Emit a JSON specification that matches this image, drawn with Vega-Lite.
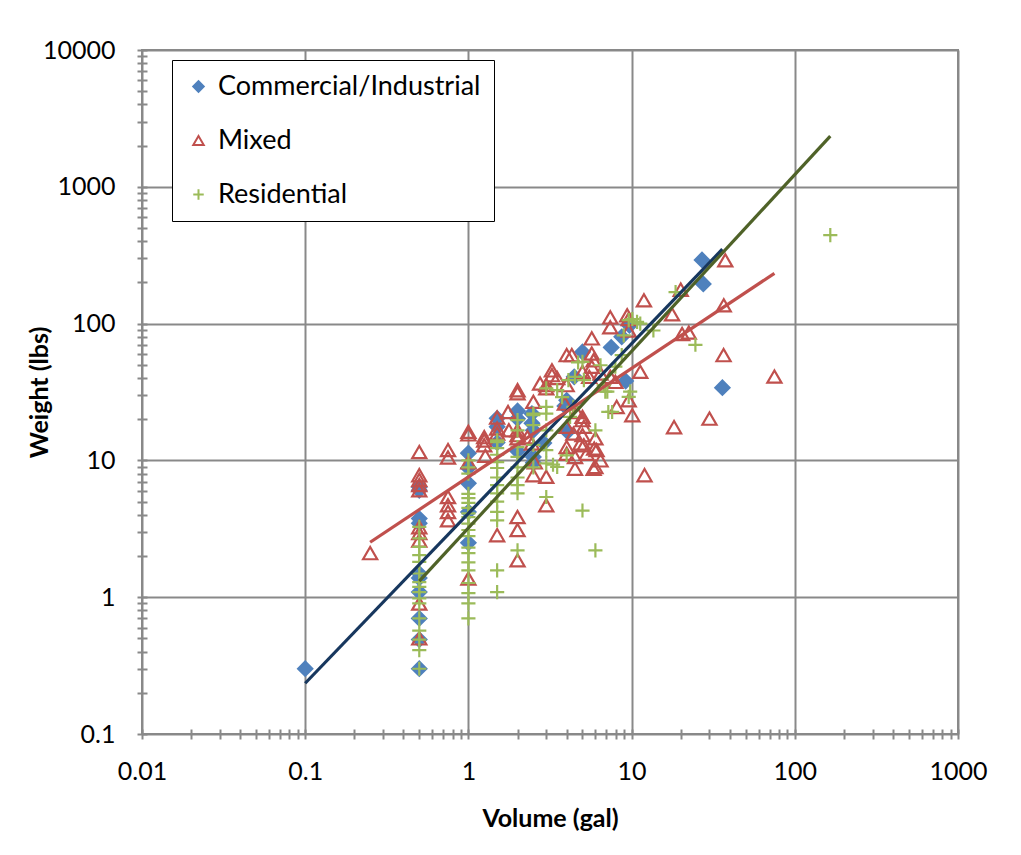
{
  "$schema": "https://vega.github.io/schema/vega-lite/v6.json",
  "width": 816,
  "height": 684,
  "autosize": {"type": "none"},
  "padding": {"left": 142, "top": 50, "right": 63, "bottom": 121},
  "background": "white",
  "config": {
    "font": "Lato",
    "view": {"stroke": "#898989", "strokeWidth": 2}
  },
  "datasets": {
    "pts": [
      {"t":"Commercial/Industrial","v":0.1,"w":0.3},
      {"t":"Commercial/Industrial","v":0.5,"w":6.4},
      {"t":"Commercial/Industrial","v":0.5,"w":6.05},
      {"t":"Commercial/Industrial","v":0.5,"w":3.76},
      {"t":"Commercial/Industrial","v":0.5,"w":3.47},
      {"t":"Commercial/Industrial","v":0.5,"w":1.49},
      {"t":"Commercial/Industrial","v":0.5,"w":1.38},
      {"t":"Commercial/Industrial","v":0.5,"w":1.09},
      {"t":"Commercial/Industrial","v":0.5,"w":0.7},
      {"t":"Commercial/Industrial","v":0.5,"w":0.49},
      {"t":"Commercial/Industrial","v":0.5,"w":0.3},
      {"t":"Commercial/Industrial","v":1,"w":11.3},
      {"t":"Commercial/Industrial","v":1,"w":8.8},
      {"t":"Commercial/Industrial","v":1,"w":6.8},
      {"t":"Commercial/Industrial","v":1,"w":4.2},
      {"t":"Commercial/Industrial","v":1,"w":2.5},
      {"t":"Commercial/Industrial","v":1.5,"w":20.3},
      {"t":"Commercial/Industrial","v":1.5,"w":17.6},
      {"t":"Commercial/Industrial","v":1.5,"w":13.5},
      {"t":"Commercial/Industrial","v":2,"w":23},
      {"t":"Commercial/Industrial","v":2,"w":20.2},
      {"t":"Commercial/Industrial","v":2,"w":11.7},
      {"t":"Commercial/Industrial","v":2.45,"w":22},
      {"t":"Commercial/Industrial","v":2.45,"w":18.7},
      {"t":"Commercial/Industrial","v":2.5,"w":16.6},
      {"t":"Commercial/Industrial","v":2.5,"w":10.6},
      {"t":"Commercial/Industrial","v":2.5,"w":9.6},
      {"t":"Commercial/Industrial","v":2.9,"w":13.4},
      {"t":"Commercial/Industrial","v":4,"w":27.5},
      {"t":"Commercial/Industrial","v":3.9,"w":25},
      {"t":"Commercial/Industrial","v":4.05,"w":16.2},
      {"t":"Commercial/Industrial","v":4.45,"w":40.8},
      {"t":"Commercial/Industrial","v":5,"w":62},
      {"t":"Commercial/Industrial","v":7.5,"w":67},
      {"t":"Commercial/Industrial","v":8.7,"w":80},
      {"t":"Commercial/Industrial","v":9.2,"w":38},
      {"t":"Commercial/Industrial","v":9.7,"w":97},
      {"t":"Commercial/Industrial","v":27,"w":292},
      {"t":"Commercial/Industrial","v":27.5,"w":195},
      {"t":"Commercial/Industrial","v":36,"w":34},
      {"t":"Mixed","v":0.25,"w":2.1},
      {"t":"Mixed","v":0.5,"w":11.5},
      {"t":"Mixed","v":0.5,"w":7.8},
      {"t":"Mixed","v":0.5,"w":7.2},
      {"t":"Mixed","v":0.5,"w":6.6},
      {"t":"Mixed","v":0.5,"w":6.05},
      {"t":"Mixed","v":0.5,"w":3.25},
      {"t":"Mixed","v":0.5,"w":2.94},
      {"t":"Mixed","v":0.5,"w":2.6},
      {"t":"Mixed","v":0.5,"w":0.9},
      {"t":"Mixed","v":0.5,"w":0.5},
      {"t":"Mixed","v":0.75,"w":11.9},
      {"t":"Mixed","v":0.75,"w":10.5},
      {"t":"Mixed","v":0.75,"w":5.4},
      {"t":"Mixed","v":0.75,"w":4.7},
      {"t":"Mixed","v":0.75,"w":4.2},
      {"t":"Mixed","v":0.75,"w":3.65},
      {"t":"Mixed","v":1,"w":16.2},
      {"t":"Mixed","v":1,"w":15.5},
      {"t":"Mixed","v":1,"w":9.7},
      {"t":"Mixed","v":1,"w":1.37},
      {"t":"Mixed","v":1.25,"w":14.8},
      {"t":"Mixed","v":1.25,"w":14},
      {"t":"Mixed","v":1.25,"w":12.9},
      {"t":"Mixed","v":1.27,"w":10.8},
      {"t":"Mixed","v":1.5,"w":20.6},
      {"t":"Mixed","v":1.5,"w":17.1},
      {"t":"Mixed","v":1.5,"w":15.7},
      {"t":"Mixed","v":1.5,"w":2.84},
      {"t":"Mixed","v":1.75,"w":22.6},
      {"t":"Mixed","v":1.77,"w":16.6},
      {"t":"Mixed","v":2,"w":32.6},
      {"t":"Mixed","v":2,"w":31},
      {"t":"Mixed","v":2,"w":16.6},
      {"t":"Mixed","v":2,"w":15.3},
      {"t":"Mixed","v":2,"w":14.5},
      {"t":"Mixed","v":2,"w":3.86},
      {"t":"Mixed","v":2,"w":3.1},
      {"t":"Mixed","v":2,"w":1.86},
      {"t":"Mixed","v":2.3,"w":14.8},
      {"t":"Mixed","v":2.45,"w":13.3},
      {"t":"Mixed","v":2.5,"w":26.8},
      {"t":"Mixed","v":2.55,"w":9.7},
      {"t":"Mixed","v":2.5,"w":7.8},
      {"t":"Mixed","v":2.75,"w":36.5},
      {"t":"Mixed","v":3,"w":35.5},
      {"t":"Mixed","v":3,"w":33.7},
      {"t":"Mixed","v":3,"w":7.6},
      {"t":"Mixed","v":3,"w":4.7},
      {"t":"Mixed","v":3.25,"w":45.5},
      {"t":"Mixed","v":3.25,"w":42},
      {"t":"Mixed","v":3.5,"w":40},
      {"t":"Mixed","v":3.9,"w":26},
      {"t":"Mixed","v":4,"w":35.5},
      {"t":"Mixed","v":4,"w":58.8},
      {"t":"Mixed","v":4,"w":17.6},
      {"t":"Mixed","v":4,"w":12.5},
      {"t":"Mixed","v":4,"w":11.2},
      {"t":"Mixed","v":4.3,"w":58.8},
      {"t":"Mixed","v":4.4,"w":15.7},
      {"t":"Mixed","v":4.5,"w":10.6},
      {"t":"Mixed","v":4.5,"w":8.7},
      {"t":"Mixed","v":4.6,"w":22.6},
      {"t":"Mixed","v":5,"w":20.8},
      {"t":"Mixed","v":5,"w":19.7},
      {"t":"Mixed","v":5.1,"w":17.6},
      {"t":"Mixed","v":5,"w":15.3},
      {"t":"Mixed","v":5.1,"w":12.9},
      {"t":"Mixed","v":5.3,"w":11.2},
      {"t":"Mixed","v":5,"w":44.4},
      {"t":"Mixed","v":4.85,"w":13.3},
      {"t":"Mixed","v":5.5,"w":40.8},
      {"t":"Mixed","v":5.7,"w":78},
      {"t":"Mixed","v":5.7,"w":60.5},
      {"t":"Mixed","v":5.7,"w":48.4},
      {"t":"Mixed","v":5.85,"w":54},
      {"t":"Mixed","v":5.85,"w":8.7},
      {"t":"Mixed","v":5.9,"w":12.2},
      {"t":"Mixed","v":6,"w":14.5},
      {"t":"Mixed","v":6,"w":8.95},
      {"t":"Mixed","v":6.1,"w":11.9},
      {"t":"Mixed","v":6.45,"w":10},
      {"t":"Mixed","v":6.45,"w":43.2},
      {"t":"Mixed","v":7.4,"w":111},
      {"t":"Mixed","v":7.4,"w":94},
      {"t":"Mixed","v":7.4,"w":40.8},
      {"t":"Mixed","v":7.95,"w":37.5},
      {"t":"Mixed","v":8.1,"w":24.6},
      {"t":"Mixed","v":9.4,"w":115},
      {"t":"Mixed","v":9.6,"w":89},
      {"t":"Mixed","v":9.6,"w":108},
      {"t":"Mixed","v":9.6,"w":27.5},
      {"t":"Mixed","v":10.1,"w":21.4},
      {"t":"Mixed","v":11.3,"w":44.4},
      {"t":"Mixed","v":11.9,"w":148},
      {"t":"Mixed","v":12,"w":7.8},
      {"t":"Mixed","v":17.7,"w":117},
      {"t":"Mixed","v":18.2,"w":17.5},
      {"t":"Mixed","v":20,"w":177},
      {"t":"Mixed","v":20.4,"w":84},
      {"t":"Mixed","v":22.4,"w":86},
      {"t":"Mixed","v":30,"w":20.2},
      {"t":"Mixed","v":36.6,"w":58.8},
      {"t":"Mixed","v":36.7,"w":136},
      {"t":"Mixed","v":37.5,"w":290},
      {"t":"Mixed","v":75,"w":41},
      {"t":"Residential","v":0.5,"w":3.27},
      {"t":"Residential","v":0.5,"w":2.69},
      {"t":"Residential","v":0.5,"w":2.33},
      {"t":"Residential","v":0.5,"w":2.03},
      {"t":"Residential","v":0.5,"w":1.81},
      {"t":"Residential","v":0.5,"w":1.49},
      {"t":"Residential","v":0.5,"w":1.29},
      {"t":"Residential","v":0.5,"w":1.19},
      {"t":"Residential","v":0.5,"w":1.09},
      {"t":"Residential","v":0.5,"w":0.98},
      {"t":"Residential","v":0.5,"w":0.9},
      {"t":"Residential","v":0.5,"w":0.7},
      {"t":"Residential","v":0.5,"w":0.57},
      {"t":"Residential","v":0.5,"w":0.49},
      {"t":"Residential","v":0.5,"w":0.41},
      {"t":"Residential","v":0.5,"w":0.3},
      {"t":"Residential","v":1,"w":10},
      {"t":"Residential","v":1,"w":8.9},
      {"t":"Residential","v":1,"w":8.0},
      {"t":"Residential","v":1,"w":5.7},
      {"t":"Residential","v":1,"w":5.3},
      {"t":"Residential","v":1,"w":4.9},
      {"t":"Residential","v":1,"w":4.5},
      {"t":"Residential","v":1,"w":4.1},
      {"t":"Residential","v":1,"w":3.85},
      {"t":"Residential","v":1,"w":3.45},
      {"t":"Residential","v":1,"w":3.1},
      {"t":"Residential","v":1,"w":2.8},
      {"t":"Residential","v":1,"w":2.3},
      {"t":"Residential","v":1,"w":2.1},
      {"t":"Residential","v":1,"w":1.8},
      {"t":"Residential","v":1,"w":1.57},
      {"t":"Residential","v":1,"w":1.27},
      {"t":"Residential","v":1,"w":1.07},
      {"t":"Residential","v":1,"w":0.9},
      {"t":"Residential","v":1,"w":0.7},
      {"t":"Residential","v":1.5,"w":14},
      {"t":"Residential","v":1.5,"w":13.6},
      {"t":"Residential","v":1.5,"w":12.3},
      {"t":"Residential","v":1.5,"w":11},
      {"t":"Residential","v":1.5,"w":9.7},
      {"t":"Residential","v":1.5,"w":8.8},
      {"t":"Residential","v":1.5,"w":7.5},
      {"t":"Residential","v":1.5,"w":6.6},
      {"t":"Residential","v":1.5,"w":5.75},
      {"t":"Residential","v":1.5,"w":5.0},
      {"t":"Residential","v":1.5,"w":4.2},
      {"t":"Residential","v":1.5,"w":3.65},
      {"t":"Residential","v":1.5,"w":1.57},
      {"t":"Residential","v":1.5,"w":1.09},
      {"t":"Residential","v":2,"w":19.7},
      {"t":"Residential","v":2,"w":16.6},
      {"t":"Residential","v":2,"w":12.5},
      {"t":"Residential","v":2,"w":10.6},
      {"t":"Residential","v":2,"w":8.9},
      {"t":"Residential","v":2,"w":7.5},
      {"t":"Residential","v":2,"w":6.6},
      {"t":"Residential","v":2,"w":5.75},
      {"t":"Residential","v":2,"w":2.2},
      {"t":"Residential","v":2.5,"w":22},
      {"t":"Residential","v":2.5,"w":21.4},
      {"t":"Residential","v":2.5,"w":18.1},
      {"t":"Residential","v":2.5,"w":13},
      {"t":"Residential","v":2.5,"w":8.9},
      {"t":"Residential","v":3,"w":24.6},
      {"t":"Residential","v":3,"w":22},
      {"t":"Residential","v":3,"w":16.6},
      {"t":"Residential","v":3,"w":33.6},
      {"t":"Residential","v":3,"w":11.9},
      {"t":"Residential","v":3,"w":9.5},
      {"t":"Residential","v":3,"w":5.4},
      {"t":"Residential","v":3.5,"w":32.6},
      {"t":"Residential","v":3.3,"w":9.3},
      {"t":"Residential","v":3.5,"w":8.95},
      {"t":"Residential","v":4,"w":10.9},
      {"t":"Residential","v":4.1,"w":38.6},
      {"t":"Residential","v":3.75,"w":29},
      {"t":"Residential","v":4.2,"w":20.8},
      {"t":"Residential","v":4.4,"w":24.6},
      {"t":"Residential","v":4.5,"w":40.8},
      {"t":"Residential","v":4.7,"w":52},
      {"t":"Residential","v":5,"w":52.5},
      {"t":"Residential","v":5.1,"w":38.6},
      {"t":"Residential","v":5,"w":4.3},
      {"t":"Residential","v":6,"w":2.2},
      {"t":"Residential","v":6,"w":16.6},
      {"t":"Residential","v":6.45,"w":49.6},
      {"t":"Residential","v":6.75,"w":35.5},
      {"t":"Residential","v":6.9,"w":31.8},
      {"t":"Residential","v":7.1,"w":31.8},
      {"t":"Residential","v":7.2,"w":22.6},
      {"t":"Residential","v":7.6,"w":22.6},
      {"t":"Residential","v":7.95,"w":48.4},
      {"t":"Residential","v":8.7,"w":58.8},
      {"t":"Residential","v":8.95,"w":82},
      {"t":"Residential","v":9.6,"w":29.1},
      {"t":"Residential","v":9.6,"w":106},
      {"t":"Residential","v":9.8,"w":31.8},
      {"t":"Residential","v":10.1,"w":108},
      {"t":"Residential","v":10.8,"w":103},
      {"t":"Residential","v":11.3,"w":100},
      {"t":"Residential","v":13.6,"w":89},
      {"t":"Residential","v":18.6,"w":170},
      {"t":"Residential","v":24.6,"w":70},
      {"t":"Residential","v":165,"w":443}
    ],
    "trend": [
      {"s":"Commercial/Industrial","v":0.1,"w":0.235},
      {"s":"Commercial/Industrial","v":36,"w":350},
      {"s":"Mixed","v":0.25,"w":2.52},
      {"s":"Mixed","v":75,"w":233},
      {"s":"Residential","v":0.5,"w":1.31},
      {"s":"Residential","v":165,"w":2345}
    ]
  },
  "layer": [
    {
      "data": {"name": "pts"},
      "mark": {"type": "point", "strokeWidth": 2.2, "opacity": 1, "size": 200},
      "encoding": {
        "x": {
          "field": "v", "type": "quantitative",
          "scale": {"type": "log", "domain": [0.01, 1000]},
          "axis": {
            "values": [0.01,0.02,0.03,0.04,0.05,0.06,0.07,0.08,0.09,0.1,0.2,0.3,0.4,0.5,0.6,0.7,0.8,0.9,1,2,3,4,5,6,7,8,9,10,20,30,40,50,60,70,80,90,100,200,300,400,500,600,700,800,900,1000],
            "format": "~g",
            "labelExpr": "abs(log(datum.value)/LN10 - round(log(datum.value)/LN10)) < 0.000001 ? datum.label : ''",
            "labelFlush": false,
            "labelOverlap": false,
            "grid": true,
            "gridColor": "#898989",
            "gridWidth": 2,
            "gridOpacity": {"condition": {"test": "abs(log(datum.value)/LN10 - round(log(datum.value)/LN10)) < 0.000001", "value": 1}, "value": 0},
            "domain": false,
            "tickColor": "#898989",
            "tickWidth": 2,
            "tickSize": 10,
            "offset": -5,
            "labelFontSize": 25,
            "labelColor": "black",
            "labelPadding": 20,
            "title": "Volume (gal)",
            "titleFontSize": 25,
            "titleFontWeight": "bold",
            "titleColor": "black",
            "titleBaseline": "middle",
            "titleX": 408,
            "titleY": 89
          }
        },
        "y": {
          "field": "w", "type": "quantitative",
          "scale": {"type": "log", "domain": [0.1, 10000]},
          "axis": {
            "values": [0.1,0.2,0.3,0.4,0.5,0.6,0.7,0.8,0.9,1,2,3,4,5,6,7,8,9,10,20,30,40,50,60,70,80,90,100,200,300,400,500,600,700,800,900,1000,2000,3000,4000,5000,6000,7000,8000,9000,10000],
            "format": "~g",
            "labelExpr": "abs(log(datum.value)/LN10 - round(log(datum.value)/LN10)) < 0.000001 ? datum.label : ''",
            "labelFlush": false,
            "labelOverlap": false,
            "grid": true,
            "gridColor": "#898989",
            "gridWidth": 2,
            "gridOpacity": {"condition": {"test": "abs(log(datum.value)/LN10 - round(log(datum.value)/LN10)) < 0.000001", "value": 1}, "value": 0},
            "domain": false,
            "tickColor": "#898989",
            "tickWidth": 2,
            "tickSize": 10,
            "offset": -5,
            "labelFontSize": 25,
            "labelColor": "black",
            "labelPadding": 22,
            "title": "Weight (lbs)",
            "titleFontSize": 25,
            "titleFontWeight": "bold",
            "titleColor": "black",
            "titleBaseline": "middle",
            "titleAngle": -90,
            "titleX": -108,
            "titleY": 342
          }
        },
        "shape": {
          "field": "t", "type": "nominal",
          "scale": {"domain": ["Commercial/Industrial","Mixed","Residential"], "range": ["diamond","triangle-up","M-1,0H1M0,-1V1"]},
          "legend": {
            "title": null, "orient": "none", "legendX": 30, "legendY": 10,
            "labelFontSize": 27, "labelColor": "black", "labelLimit": 600,
            "symbolSize": 110, "symbolStrokeWidth": 2,
            "padding": 13, "rowPadding": 26, "labelOffset": 6,
            "strokeColor": "black", "fillColor": "white"
          }
        },
        "fill": {
          "field": "t", "type": "nominal",
          "scale": {"domain": ["Commercial/Industrial","Mixed","Residential"], "range": ["#4F81BD","transparent","transparent"]},
          "legend": {
            "title": null, "orient": "none", "legendX": 30, "legendY": 10,
            "labelFontSize": 27, "labelColor": "black", "labelLimit": 600,
            "symbolSize": 110, "symbolStrokeWidth": 2,
            "padding": 13, "rowPadding": 26, "labelOffset": 6,
            "strokeColor": "black", "fillColor": "white"
          }
        },
        "stroke": {
          "field": "t", "type": "nominal",
          "scale": {"domain": ["Commercial/Industrial","Mixed","Residential"], "range": ["#4F81BD","#C0504D","#9BBB59"]},
          "legend": {
            "title": null, "orient": "none", "legendX": 30, "legendY": 10,
            "labelFontSize": 27, "labelColor": "black", "labelLimit": 600,
            "symbolSize": 110, "symbolStrokeWidth": 2,
            "padding": 13, "rowPadding": 26, "labelOffset": 6,
            "strokeColor": "black", "fillColor": "white"
          }
        }
      }
    },
    {
      "data": {"name": "trend"},
      "mark": {"type": "line", "strokeWidth": 3.2},
      "encoding": {
        "x": {"field": "v", "type": "quantitative"},
        "y": {"field": "w", "type": "quantitative"},
        "color": {
          "field": "s", "type": "nominal",
          "scale": {"domain": ["Commercial/Industrial","Mixed","Residential"], "range": ["#17375E","#C0504D","#4F6228"]},
          "legend": null
        }
      }
    }
  ]
}
